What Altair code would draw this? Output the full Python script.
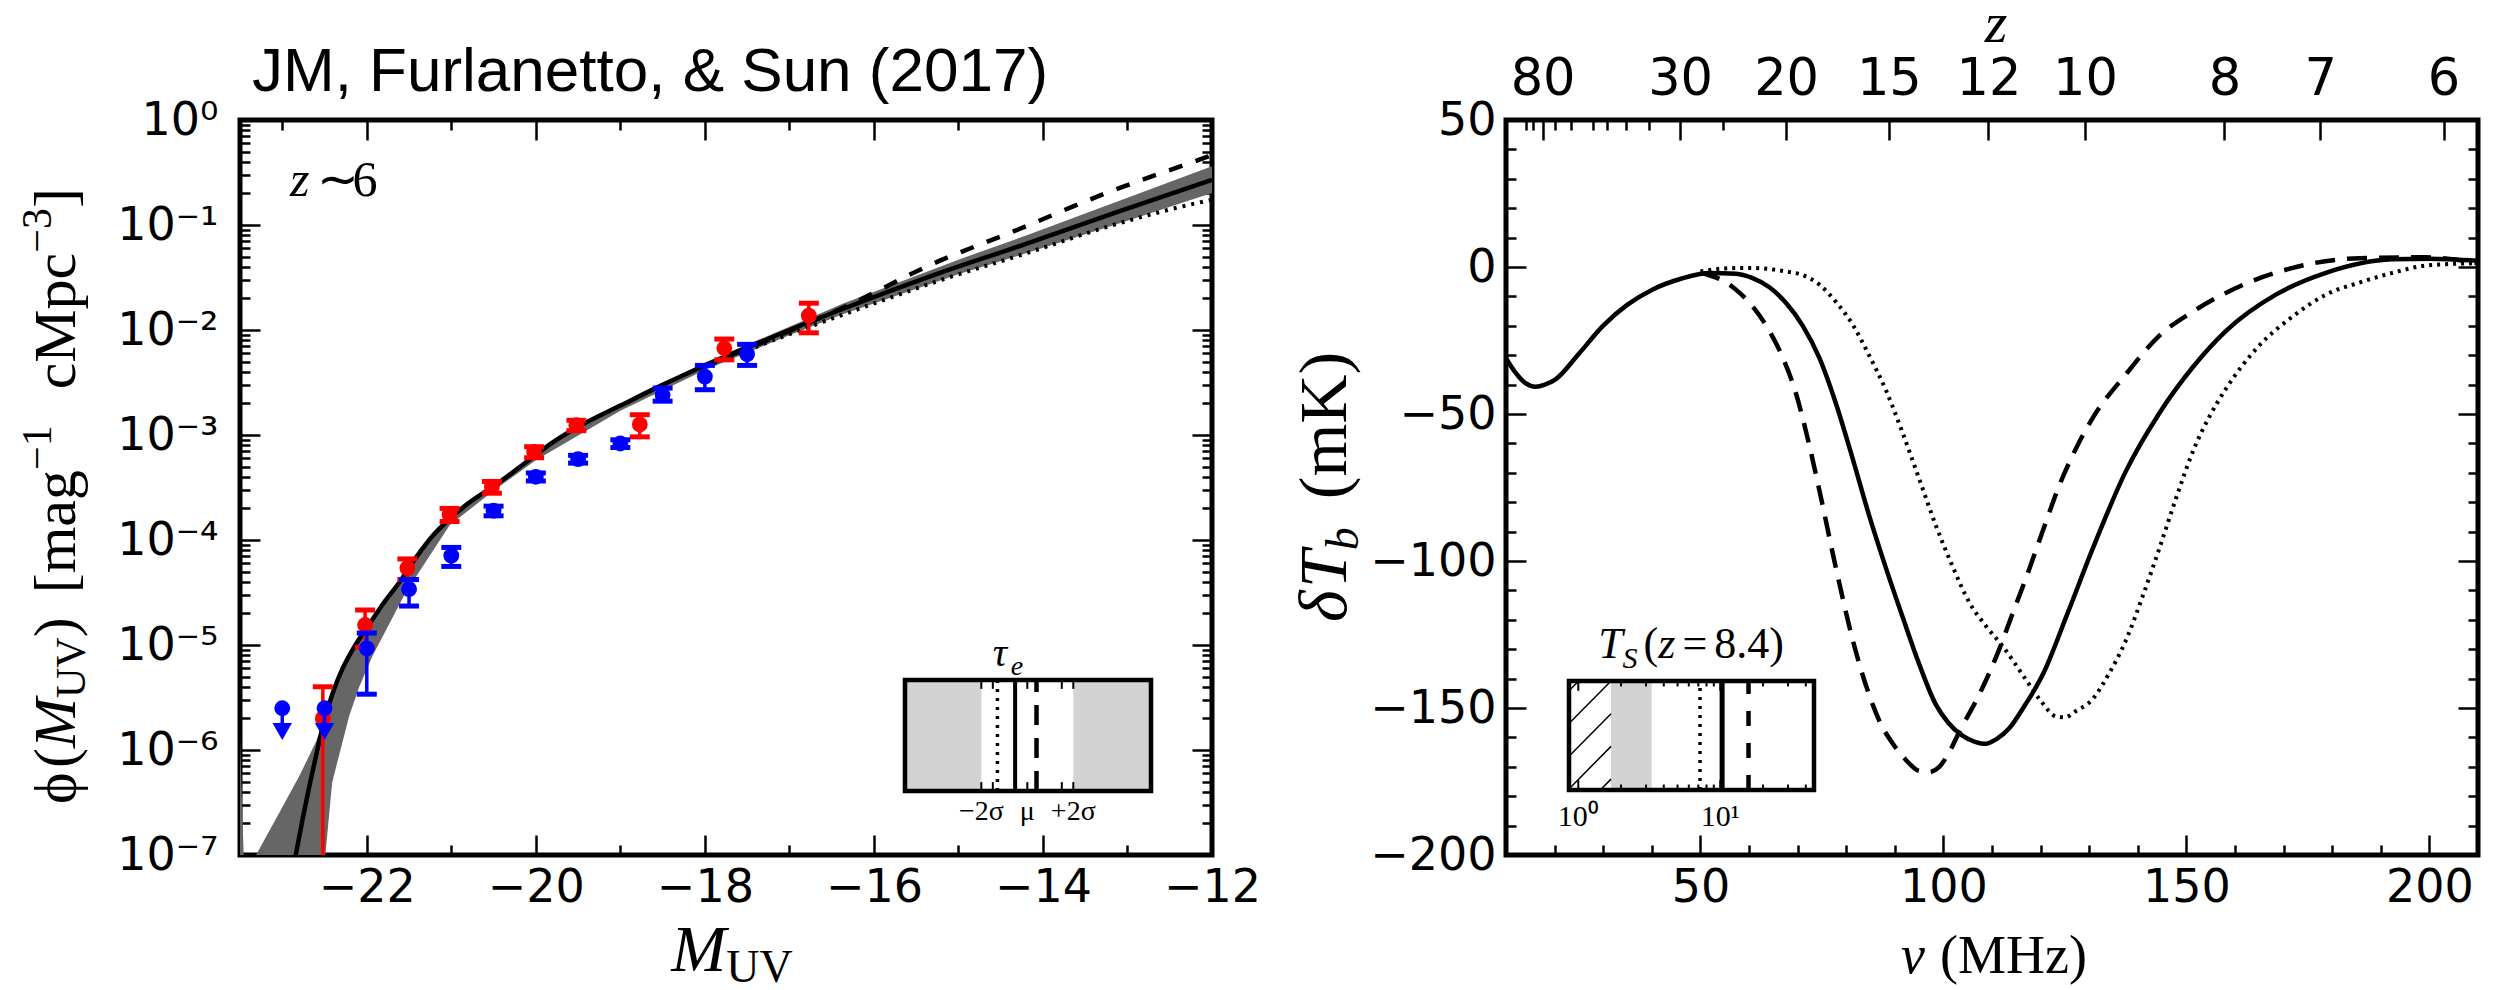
import altair as alt
import pandas as pd

# ---------------- left panel: z ~ 6 UV luminosity function ----------------
# binned measurements, red set
red_M = [-22.52, -22.02, -21.52, -21.02, -20.52, -20.02, -19.52, -18.77, -17.77, -16.77]
red_phi = [2.0e-6, 1.55e-5, 5.4e-5, 1.75e-4, 3.2e-4, 6.9e-4, 1.24e-3, 1.26e-3, 6.7e-3, 1.37e-2]
red_err = [2.0e-6, 6.0e-6, 1.2e-5, 2.5e-5, 4.1e-5, 8.3e-5, 1.4e-4, 3.0e-4, 1.5e-3, 4.3e-3]

# binned measurements, blue set
blue_M = [-22.0, -21.5, -21.0, -20.5, -20.0, -19.5, -19.0, -18.5, -18.0, -17.5]
blue_phi = [9.3e-6, 3.4e-5, 7.1e-5, 1.9e-4, 4.0e-4, 5.9e-4, 8.3e-4, 2.4e-3, 3.6e-3, 5.9e-3]
blue_err_up = [3.7e-6, 8.0e-6, 1.4e-5, 2.0e-5, 3.5e-5, 5.0e-5, 7.0e-5, 4.0e-4, 1.0e-3, 1.4e-3]
blue_err_dn = [5.9e-6, 1.05e-5, 1.5e-5, 2.0e-5, 3.5e-5, 5.0e-5, 7.0e-5, 3.0e-4, 9.0e-4, 1.3e-3]
# blue upper limits (bright end)
lim_M = [-23.0, -22.5]
lim_phi = [2.5e-6, 2.5e-6]
lim_arrow_end = [1.5e-6, 1.5e-6]

# model LF, log10(phi)
solid_M = [-22.95, -22.84, -22.75, -22.67, -22.58, -22.50, -22.40, -22.29, -22.15, -22.01,
           -21.80, -21.62, -21.42, -21.22, -21.02, -20.83, -20.43, -20.10, -19.80, -19.45,
           -19.00, -18.52, -17.89, -17.30, -16.69, -16.37, -15.30, -14.20, -13.10, -12.00]
solid_log = [-7.5, -7.0, -6.62, -6.31, -5.98, -5.71, -5.45, -5.23, -5.02, -4.85,
             -4.60, -4.41, -4.17, -3.96, -3.80, -3.67, -3.45, -3.25, -3.07, -2.90,
             -2.72, -2.53, -2.30, -2.10, -1.90, -1.80, -1.48, -1.18, -0.87, -0.57]
dashed_M = [-18.0, -17.0, -16.29, -15.36, -14.30, -13.25, -12.15, -12.0]
dashed_log = [-2.34, -2.01, -1.76, -1.39, -1.045, -0.695, -0.378, -0.335]
dotted_M = [-18.0, -17.0, -16.37, -15.19, -14.20, -13.21, -12.03, -12.0]
dotted_log = [-2.35, -2.04, -1.855, -1.52, -1.27, -1.01, -0.765, -0.76]

# model uncertainty band, log10(phi)
band_M = [-23.50, -23.44, -23.38, -23.31, -23.05, -22.80, -22.60, -22.52, -22.49, -22.41,
          -22.21, -22.09, -21.93, -21.54, -21.02, -20.50, -20.00, -19.00, -18.00, -17.00,
          -16.37, -15.00, -14.20, -13.00, -12.00]
band_hi = [-5.9, -7.4, -7.6, -7.0, -6.62, -6.25, -5.92, -5.74, -5.66, -5.46,
           -5.09, -4.92, -4.73, -4.29, -3.78, -3.47, -3.17, -2.70, -2.31, -1.97,
           -1.75, -1.33, -1.10, -0.74, -0.44]
band_lo = [-9.0, -9.0, -9.0, -9.0, -9.0, -9.0, -9.0, -7.6, -7.0, -6.31,
           -5.68, -5.40, -5.10, -4.50, -3.86, -3.53, -3.24, -2.77, -2.38, -2.05,
           -1.85, -1.47, -1.27, -0.96, -0.695]

# inset: electron optical depth, in units of sigma about the mean
tau_lim = [-5.32, 5.38]
tau_shade_from = [-5.32, 2.0]
tau_shade_to = [-2.0, 5.38]
tau_dotted, tau_solid, tau_dashed = -1.30, -0.53, 0.40
tau_ticks = [-2.0, -1.5, 0.0, 1.5, 2.0]
tau_label_pos = [-2.0, 0.0, 2.0]
tau_label_txt = ["\u22122\u03c3", "\u03bc", "+2\u03c3"]

# ---------------- right panel: global 21-cm signal ----------------
nu_solid = [10, 12, 14, 16.1, 18, 20.2, 25, 29.9, 35, 40.1, 46, 51.8, 57.3, 60.5, 64.2, 67.5,
            71.1, 74.5, 77.9, 81.3, 84.7, 88.2, 91.6, 95, 98.4, 101, 103.9, 106.5, 108.7, 111,
            113.5, 116.8, 120.4, 125.5, 130.7, 137.5, 144.4, 151.3, 158.1, 168.4, 178.7, 192.4,
            200, 210]
dTb_solid = [-31, -36, -39.5, -40.7, -40, -38.2, -29.5, -20.1, -12.8, -7.7, -4, -2.0, -2.3, -3.6,
             -6.9, -12, -20.1, -31, -46.5, -65, -84.4, -102.5, -119, -135, -148.7, -155, -159.4,
             -161.5, -162.2, -160.5, -157, -149, -138.8, -118, -95.9, -69.6, -49.8, -34.1, -21.8,
             -9.4, -2.0, 2.6, 2.8, 2.1]
nu_dashed = [50, 51.8, 54.5, 57.3, 60.8, 64.2, 67, 69.7, 72.1, 74.5, 77.9, 81.4, 84.7, 87, 89.5,
             92.2, 95, 97, 99.1, 101.2, 103.4, 107.5, 111.5, 114.2, 117, 120.4, 123.8, 127.2,
             130.7, 137.5, 144.4, 151.3, 161.6, 171.9, 185.6, 199.3, 210]
dTb_dashed = [-2.0, -2.8, -4.5, -7.7, -13.5, -21.8, -31, -43.2, -58.5, -76.1, -102.5, -127.2,
              -145.4, -155, -161.9, -167.5, -171.4, -171.8, -170.1, -165, -157.7, -145, -130,
              -118, -105.8, -90, -74.5, -62, -51.4, -36.6, -23.4, -15.2, -6.1, -0.3, 3.0, 3.3, 1.3]
nu_dotted = [50, 55, 60, 64.2, 67.5, 71.1, 74.5, 77.9, 81.3, 84.7, 88.2, 91.6, 95, 98.4, 101.8,
             105.3, 108.7, 112.2, 117, 120, 123.1, 125, 127.2, 130.7, 134, 137.5, 141, 144.4,
             147.8, 151.3, 154.7, 158.1, 165, 171.9, 178.7, 185.6, 192.4, 199.3, 210]
dTb_dotted = [-1.5, -0.5, -0.3, -0.7, -1.5, -2.8, -6, -11.9, -19.5, -30, -42, -56.4, -72, -87.7,
              -101.5, -114, -122, -129, -140.4, -147.5, -152.8, -153.2, -151.1, -147, -138.5,
              -127.2, -112, -95.9, -79, -62.9, -51, -41.5, -26.7, -16.8, -9.4, -5.3, -2.0, 0.5, 1.3]

# redshift ticks on the top axis
z_major = [80, 30, 20, 15, 12, 10, 8, 7, 6]
z_minor = [25, 35, 40, 45, 50, 60, 70, 90, 100]
NU21 = 1420.4  # rest frequency of the 21-cm line, MHz

# inset: spin temperature at z = 8.4 (log axis)
ts_lim = [0.86, 45.7]
ts_hatch = [0.86, 1.70]
ts_shade = [1.70, 3.29]
ts_dotted, ts_solid, ts_dashed = 7.2, 10.3, 15.8
ts_major = [1, 10]
ts_minor = [2, 3, 4, 5, 6, 7, 8, 9, 20, 30, 40]
ts_label_pos = [1, 10]
ts_label_txt = ["10\u2070", "10\u00b9"]

# ---------------- styling helpers ----------------
W, H = 972, 735
SANS = "DejaVu Sans"
SERIF = "Liberation Serif"
TMAJ, TMIN = 20, 10
ONE = pd.DataFrame({"k": [0]})

ROMAN = {" ": 0.25, "(": 0.333, ")": 0.333, "[": 0.333, "]": 0.333, "m": 0.778, "a": 0.444,
         "g": 0.5, "c": 0.444, "M": 0.889, "p": 0.5, "K": 0.722, "H": 0.722, "z": 0.444,
         "U": 0.722, "V": 0.722, "b": 0.5, "S": 0.556, "T": 0.611, "\u2212": 0.564, "+": 0.564,
         "=": 0.564, ".": 0.25, "e": 0.444, "\u03d5": 0.6, "\u03b4": 0.5, "\u03bd": 0.5,
         "\u03c4": 0.45, "\u03c3": 0.55, "\u03bc": 0.5, "\u223c": 0.54}
ITALIC = {"M": 0.833, "T": 0.556, "z": 0.389, "S": 0.5, "e": 0.444, "b": 0.5}


def text_w(s, size, italic):
    table = ITALIC if italic else ROMAN
    return size * sum(table.get(c, ROMAN.get(c, 0.5)) for c in s)


def rich(pieces, x, y, angle=0, centered=True):
    """Run of text pieces (text, size, italic, baseline shift) or gaps in px."""
    widths = [p if isinstance(p, (int, float)) else text_w(p[0], p[1], p[2]) for p in pieces]
    pos = -sum(widths) / 2 if centered else 0.0
    out = []
    for p, w in zip(pieces, widths):
        if not isinstance(p, (int, float)):
            t, size, italic, shift = p
            out.append(
                alt.Chart(ONE).mark_text(
                    text=t, font=SERIF, fontSize=size,
                    fontStyle="italic" if italic else "normal",
                    align="left", baseline="alphabetic", angle=angle,
                    dx=pos, dy=shift, color="black",
                ).encode(x=alt.value(x), y=alt.value(y))
            )
        pos += w
    return out


def axis(orient, values, size, labels=False, **kw):
    return alt.Axis(orient=orient, values=values, tickSize=size, offset=-size, labels=labels,
                    domain=False, grid=False, title=None, ticks=True, labelOverlap=False,
                    labelFlush=False, **kw)


def carrier(xs, ys, xaxis, yaxis, xv, yv):
    df = pd.DataFrame({"cx": [xv], "cy": [yv]})
    return alt.Chart(df).mark_point(opacity=0).encode(
        x=alt.X("cx:Q", scale=xs, axis=xaxis), y=alt.Y("cy:Q", scale=ys, axis=yaxis))


# ---------------- left panel ----------------
xs_l = alt.Scale(domain=[-23.5, -12], nice=False, zero=False)
ys_l = alt.Scale(type="log", domain=[1e-7, 1], nice=False)
XL = alt.X("M:Q", scale=xs_l, axis=None)


def YL(f):
    return alt.Y(f"{f}:Q", scale=ys_l, axis=None)


band_df = pd.DataFrame({"M": band_M, "lo": [10 ** v for v in band_lo], "hi": [10 ** v for v in band_hi]})
solid_df = pd.DataFrame({"M": solid_M, "phi": [10 ** v for v in solid_log]})
dashed_df = pd.DataFrame({"M": dashed_M, "phi": [10 ** v for v in dashed_log]})
dotted_df = pd.DataFrame({"M": dotted_M, "phi": [10 ** v for v in dotted_log]})
red_df = pd.DataFrame({"M": red_M, "phi": red_phi,
                       "lo": [max(p - e, 1e-9) for p, e in zip(red_phi, red_err)],
                       "hi": [p + e for p, e in zip(red_phi, red_err)]})
blue_df = pd.DataFrame({"M": blue_M, "phi": blue_phi,
                        "lo": [p - e for p, e in zip(blue_phi, blue_err_dn)],
                        "hi": [p + e for p, e in zip(blue_phi, blue_err_up)]})
lim_df = pd.DataFrame({"M": lim_M, "phi": lim_phi, "end": lim_arrow_end})

band = alt.Chart(band_df).mark_area(color="#666666", opacity=1, clip=True).encode(
    x=XL, y=YL("lo"), y2="hi:Q")
solid = alt.Chart(solid_df).mark_line(color="black", strokeWidth=4.5, clip=True,
                                      interpolate="monotone").encode(x=XL, y=YL("phi"))
dashed = alt.Chart(dashed_df).mark_line(color="black", strokeWidth=4.5, strokeDash=[14, 14],
                                        clip=True, interpolate="monotone").encode(x=XL, y=YL("phi"))
dotted = alt.Chart(dotted_df).mark_line(color="black", strokeWidth=4, strokeDash=[3, 6],
                                        clip=True, interpolate="monotone").encode(x=XL, y=YL("phi"))


def errbars(df, color):
    base = alt.Chart(df)
    return [
        base.mark_rule(color=color, strokeWidth=3.5, clip=True).encode(x=XL, y=YL("lo"), y2="hi:Q"),
        base.mark_tick(color=color, orient="horizontal", size=20, thickness=5, clip=True,
                       opacity=1).encode(x=XL, y=YL("hi")),
        base.mark_tick(color=color, orient="horizontal", size=20, thickness=5, clip=True,
                       opacity=1).encode(x=XL, y=YL("lo")),
        base.mark_circle(color=color, size=250, opacity=1, clip=True).encode(x=XL, y=YL("phi")),
    ]


limits = [
    alt.Chart(lim_df).mark_rule(color="blue", strokeWidth=3.5).encode(x=XL, y=YL("phi"), y2="end:Q"),
    alt.Chart(lim_df).mark_circle(color="blue", size=250, opacity=1).encode(x=XL, y=YL("phi")),
    alt.Chart(lim_df).mark_point(shape="triangle-down", filled=True, color="blue", size=380,
                                 opacity=1).encode(x=XL, y=YL("end")),
]

dec_labels = ["10\u207b\u2077", "10\u207b\u2076", "10\u207b\u2075", "10\u207b\u2074",
              "10\u207b\u00b3", "10\u207b\u00b2", "10\u207b\u00b9", "10\u2070"]
dec_expr = "[" + ",".join(f"'{s}'" for s in dec_labels) + "][round(log(datum.value)/LN10)+7]"
y_major_l = [10.0 ** e for e in range(-7, 1)]
y_minor_l = [k * 10.0 ** e for e in range(-7, 0) for k in range(2, 10)]
x_major_l = [-22, -20, -18, -16, -14, -12]
x_minor_l = [-23, -21, -19, -17, -15, -13]
minus_expr = "replace(format(datum.value, 'd'), '-', '\u2212')"

left_axes = [
    carrier(xs_l, ys_l,
            axis("bottom", x_major_l, TMAJ, labels=True, labelExpr=minus_expr, labelPadding=10),
            axis("left", y_major_l, TMAJ, labels=True, labelExpr=dec_expr, labelPadding=22),
            -20, 1e-3),
    carrier(xs_l, ys_l, axis("bottom", x_minor_l, TMIN), axis("left", y_minor_l, TMIN), -20, 1e-3),
    carrier(xs_l, ys_l, axis("top", x_major_l, TMAJ), axis("right", y_major_l, TMAJ), -20, 1e-3),
    carrier(xs_l, ys_l, axis("top", x_minor_l, TMIN), axis("right", y_minor_l, TMIN), -20, 1e-3),
]

left_text = [
    alt.Chart(ONE).mark_text(text="JM, Furlanetto, & Sun (2017)", font="Liberation Sans",
                             fontSize=62, align="left", baseline="alphabetic",
                             color="black").encode(x=alt.value(12), y=alt.value(-29)),
    *rich([("z", 50, True, 0), 8, ("\u223c", 50, False, 0), 8, ("6", 50, False, 0)], 50, 76,
          centered=False),
    *rich([("M", 66, True, 0), ("UV", 46, False, 11)], 492, 851),
    *rich([("\u03d5", 60, False, 0), ("(", 60, False, 0), ("M", 60, True, 0), ("UV", 42, False, 10),
           (")", 60, False, 0), 24, ("[", 60, False, 0), ("mag", 60, False, 0),
           ("\u22121", 42, False, -24), 36, ("cMpc", 60, False, 0), ("\u22123", 42, False, -24),
           ("]", 60, False, 0)], -165, 376, angle=270),
]

left_main = alt.layer(
    band, dotted, dashed, solid, *errbars(red_df, "red"), *errbars(blue_df, "blue"), *limits,
    *left_axes, *left_text,
).resolve_axis(x="independent", y="independent")

# left inset
ixs = alt.Scale(domain=tau_lim, range=[665, 911], nice=False, zero=False)
iys = alt.Scale(domain=[0, 1], range=[671, 560], nice=False, zero=False)


def IX(f):
    return alt.X(f"{f}:Q", scale=ixs, axis=None)


def IY(f):
    return alt.Y(f"{f}:Q", scale=iys, axis=None)


shade_df = pd.DataFrame({"a": tau_shade_from, "b": tau_shade_to, "y0": [0, 0], "y1": [1, 1]})
tick_df = pd.DataFrame({"t": tau_ticks * 2, "y0": [0.0] * 5 + [0.92] * 5, "y1": [0.08] * 5 + [1.0] * 5})
box_df = pd.DataFrame({"a": [tau_lim[0]], "b": [tau_lim[1]], "y0": [0], "y1": [1]})
tlab_df = pd.DataFrame({"t": tau_label_pos, "txt": tau_label_txt, "y": [-0.26] * 3})


def vline(v, **kw):
    return alt.Chart(pd.DataFrame({"v": [v], "y0": [0], "y1": [1]})).mark_rule(color="black", **kw).encode(
        x=IX("v"), y=IY("y0"), y2="y1:Q")


left_inset = alt.layer(
    alt.Chart(shade_df).mark_rect(color="#d3d3d3", opacity=1).encode(x=IX("a"), x2="b:Q", y=IY("y0"), y2="y1:Q"),
    vline(tau_dotted, strokeWidth=3.5, strokeDash=[3, 6]),
    vline(tau_solid, strokeWidth=4),
    vline(tau_dashed, strokeWidth=4.5, strokeDash=[20, 13]),
    alt.Chart(tick_df).mark_rule(color="black", strokeWidth=2).encode(x=IX("t"), y=IY("y0"), y2="y1:Q"),
    alt.Chart(box_df).mark_rect(fill="transparent", stroke="black", strokeWidth=4.5).encode(
        x=IX("a"), x2="b:Q", y=IY("y0"), y2="y1:Q"),
    alt.Chart(tlab_df).mark_text(font=SERIF, fontSize=28, baseline="alphabetic", color="black").encode(
        x=IX("t"), y=IY("y"), text="txt:N"),
    *rich([("\u03c4", 40, True, 0), ("e", 28, True, 9)], 768, 546),
)

left = alt.layer(left_main, left_inset).resolve_scale(x="independent", y="independent").properties(
    width=W, height=H)

# ---------------- right panel ----------------
xs_r = alt.Scale(domain=[10, 210], nice=False, zero=False)
ys_r = alt.Scale(domain=[-200, 50], nice=False, zero=False)
XR = alt.X("nu:Q", scale=xs_r, axis=None)
YR = alt.Y("dTb:Q", scale=ys_r, axis=None)

r_solid = alt.Chart(pd.DataFrame({"nu": nu_solid, "dTb": dTb_solid})).mark_line(
    color="black", strokeWidth=4.5, interpolate="monotone", clip=True).encode(x=XR, y=YR)
r_dashed = alt.Chart(pd.DataFrame({"nu": nu_dashed, "dTb": dTb_dashed})).mark_line(
    color="black", strokeWidth=4.5, strokeDash=[20, 12], interpolate="monotone", clip=True).encode(x=XR, y=YR)
r_dotted = alt.Chart(pd.DataFrame({"nu": nu_dotted, "dTb": dTb_dotted})).mark_line(
    color="black", strokeWidth=4, strokeDash=[3, 5], interpolate="monotone", clip=True).encode(x=XR, y=YR)

x_major_r = [50, 100, 150, 200]
x_minor_r = [v for v in range(20, 211, 10) if v % 50 != 0]
y_major_r = [-200, -150, -100, -50, 0, 50]
y_minor_r = [v for v in range(-190, 50, 10) if v % 50 != 0]
nu_z_major = [NU21 / (1 + z) for z in z_major]
nu_z_minor = [NU21 / (1 + z) for z in z_minor]
z_expr = f"'' + round({NU21}/datum.value - 1)"

right_axes = [
    carrier(xs_r, ys_r,
            axis("bottom", x_major_r, TMAJ, labels=True, labelPadding=10),
            axis("left", y_major_r, TMAJ, labels=True, labelExpr=minus_expr, labelPadding=10),
            100, 0),
    carrier(xs_r, ys_r, axis("bottom", x_minor_r, TMIN), axis("left", y_minor_r, TMIN), 100, 0),
    carrier(xs_r, ys_r,
            axis("top", nu_z_major, TMAJ, labels=True, labelExpr=z_expr, labelPadding=15,
                 labelFontSize=51),
            axis("right", y_major_r, TMAJ), 100, 0),
    carrier(xs_r, ys_r, axis("top", nu_z_minor, TMIN), axis("right", y_minor_r, TMIN), 100, 0),
]

right_text = [
    *rich([("z", 58, True, 0)], 490, -78),
    *rich([("\u03bd", 54, True, 0), 12, ("(", 54, False, 0), ("MHz", 54, False, 0), (")", 54, False, 0)],
          488, 853),
    *rich([("\u03b4", 68, True, 0), ("T", 68, True, 0), ("b", 46, True, 12), 28, ("(", 68, False, 0),
           ("mK", 68, False, 0), (")", 68, False, 0)], -160, 367, angle=270),
]

right_main = alt.layer(r_dotted, r_dashed, r_solid, *right_axes, *right_text).resolve_axis(
    x="independent", y="independent")

# right inset
rxs = alt.Scale(type="log", domain=ts_lim, range=[63, 308], nice=False)
rys = alt.Scale(domain=[0, 1], range=[670, 561], nice=False, zero=False)


def RX(f):
    return alt.X(f"{f}:Q", scale=rxs, axis=None)


def RY(f):
    return alt.Y(f"{f}:Q", scale=rys, axis=None)


# diagonal hatching of the excluded region, clipped to the inset box
h_rise, h_step = 0.39, 0.30
hx0, hx1, hy0, hy1 = [], [], [], []
for k in range(-1, 4):
    y0 = 0.01 + k * h_step
    f0 = max(0.0, -y0 / h_rise)
    f1 = min(1.0, (1 - y0) / h_rise)
    if f1 <= f0:
        continue
    lo, hi = ts_hatch
    hx0.append(lo * (hi / lo) ** f0)
    hx1.append(lo * (hi / lo) ** f1)
    hy0.append(y0 + h_rise * f0)
    hy1.append(y0 + h_rise * f1)
hatch_df = pd.DataFrame({"a": hx0, "b": hx1, "y0": hy0, "y1": hy1})

ts_tick_df = pd.DataFrame({
    "t": ts_major * 2 + ts_minor * 2,
    "y0": [0.0] * 2 + [0.91] * 2 + [0.0] * len(ts_minor) + [0.95] * len(ts_minor),
    "y1": [0.09] * 2 + [1.0] * 2 + [0.05] * len(ts_minor) + [1.0] * len(ts_minor),
})
ts_box = pd.DataFrame({"a": [ts_lim[0]], "b": [ts_lim[1]], "y0": [0], "y1": [1]})
ts_shade_df = pd.DataFrame({"a": [ts_shade[0]], "b": [ts_shade[1]], "y0": [0], "y1": [1]})
ts_lab_df = pd.DataFrame({"t": ts_label_pos, "txt": ts_label_txt, "y": [-0.33] * 2})


def rvline(v, **kw):
    return alt.Chart(pd.DataFrame({"v": [v], "y0": [0], "y1": [1]})).mark_rule(color="black", **kw).encode(
        x=RX("v"), y=RY("y0"), y2="y1:Q")


right_inset = alt.layer(
    alt.Chart(ts_shade_df).mark_rect(color="#d3d3d3", opacity=1).encode(x=RX("a"), x2="b:Q", y=RY("y0"), y2="y1:Q"),
    alt.Chart(hatch_df).mark_rule(color="black", strokeWidth=1.5).encode(x=RX("a"), x2="b:Q", y=RY("y0"), y2="y1:Q"),
    rvline(ts_dotted, strokeWidth=3.5, strokeDash=[3, 6]),
    rvline(ts_solid, strokeWidth=5),
    rvline(ts_dashed, strokeWidth=4.5, strokeDash=[15, 17]),
    alt.Chart(ts_tick_df).mark_rule(color="black", strokeWidth=2).encode(x=RX("t"), y=RY("y0"), y2="y1:Q"),
    alt.Chart(ts_box).mark_rect(fill="transparent", stroke="black", strokeWidth=4.5).encode(
        x=RX("a"), x2="b:Q", y=RY("y0"), y2="y1:Q"),
    alt.Chart(ts_lab_df).mark_text(font=SERIF, fontSize=30, baseline="alphabetic", color="black").encode(
        x=RX("t"), y=RY("y"), text="txt:N"),
    *rich([("T", 44, True, 0), ("S", 30, True, 10), 6, ("(", 44, False, 0), ("z", 44, True, 0), 7,
           ("=", 44, False, 0), 7, ("8.4", 44, False, 0), (")", 44, False, 0)], 185, 538),
)

right = alt.layer(right_main, right_inset).resolve_scale(x="independent", y="independent").properties(
    width=W, height=H)

chart = (
    alt.hconcat(left, right, spacing=294, bounds="flush")
    .properties(padding={"left": 14, "top": -7, "right": 5, "bottom": 0}, background="white")
    .configure_view(stroke="black", strokeWidth=5)
    .configure_axis(labelFont=SANS, labelFontSize=46, labelColor="black", tickColor="black",
                    tickWidth=2.5)
)

chart.save("out.html", embed_options={"renderer": "svg", "actions": False})
